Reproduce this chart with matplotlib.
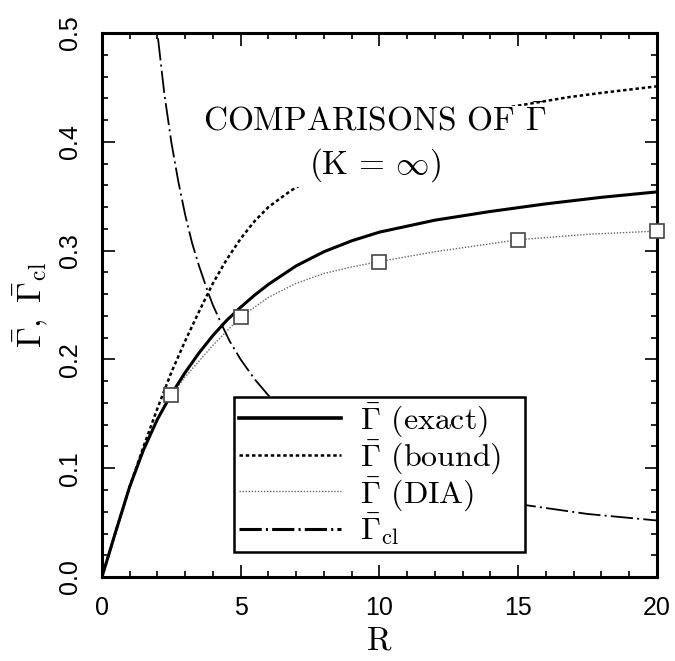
import numpy as np
import matplotlib
matplotlib.use("Agg")
import matplotlib.pyplot as plt

plt.rcParams["mathtext.fontset"] = "cm"
plt.rcParams["lines.scale_dashes"] = False

# curves
r_exact = [0, 0.5, 1, 1.5, 2, 2.5, 3, 3.5, 4, 4.5, 5, 5.5, 6, 7, 8, 9, 10, 12, 14, 16, 18, 20]
g_exact = [0, 0.042, 0.083, 0.117, 0.145, 0.168, 0.188, 0.206, 0.222, 0.236, 0.248, 0.259, 0.269,
           0.286, 0.299, 0.309, 0.317, 0.328, 0.336, 0.343, 0.349, 0.354]

r_bound = [0, 0.5, 1, 1.5, 2, 2.5, 3, 3.5, 4, 4.5, 5, 5.5, 6, 6.8, 8, 10, 12, 14, 16.8, 18, 20]
g_bound = [0, 0.042, 0.083, 0.12, 0.155, 0.188, 0.217, 0.244, 0.27, 0.292, 0.311, 0.327, 0.34,
           0.355, 0.373, 0.398, 0.416, 0.429, 0.441, 0.445, 0.451]

r_dia = [0, 0.5, 1, 1.5, 2, 2.5, 3, 4, 5, 6, 7, 8, 9, 10, 12, 15, 17.5, 20]
g_dia = [0, 0.042, 0.083, 0.117, 0.145, 0.167, 0.184, 0.213, 0.239, 0.257, 0.270, 0.279, 0.285,
         0.290, 0.299, 0.310, 0.315, 0.318]
r_dia_pts = [2.5, 5, 10, 15, 20]
g_dia_pts = [0.167, 0.239, 0.290, 0.310, 0.318]

r_cl = [1.9, 2, 2.25, 2.5, 2.75, 3, 3.25, 3.5, 3.82, 4, 4.3, 4.6, 5, 5.5, 6, 7, 8, 9, 10, 12, 14,
        15.3, 17.5, 20]
g_cl = [0.525, 0.5, 0.444, 0.4, 0.364, 0.333, 0.307, 0.286, 0.262, 0.25, 0.233, 0.217, 0.2, 0.182,
        0.167, 0.143, 0.125, 0.111, 0.1, 0.083, 0.072, 0.066, 0.058, 0.052]

labels = [r"$\bar{\Gamma}$ (exact)", r"$\bar{\Gamma}$ (bound)", r"$\bar{\Gamma}$ (DIA)",
          r"$\bar{\Gamma}_{\rm cl}$"]

fig = plt.figure(figsize=(6.75, 6.61), dpi=100)
ax = fig.add_axes([0.151, 0.127, 0.822, 0.823])

l1, = ax.plot(r_exact, g_exact, color="black", lw=2.2, zorder=3)
l2, = ax.plot(r_bound, g_bound, color="black", lw=1.8, zorder=2)
l2.set_dashes((2.5, 2.0))
l3, = ax.plot(r_dia, g_dia, color="#666666", lw=1.0, linestyle=(0, (1, 1.2)), zorder=2)
ax.plot(r_dia_pts, g_dia_pts, linestyle="None", marker="s", markersize=9.5, mfc="white",
        mec="#444444", mew=1.2, zorder=4, clip_on=False)
l4, = ax.plot(r_cl, g_cl, color="black", lw=1.3, zorder=2)
l4.set_dashes((16, 3, 1.5, 3))

ax.text(9.85, 0.398, "COMPARISONS OF $\\bar{\\Gamma}$\n($\\mathrm{K}$ = $\\infty$)",
        ha="center", va="center", multialignment="center", fontsize=24, family="cmr10",
        linespacing=1.35, zorder=5,
        bbox=dict(facecolor="white", edgecolor="none", pad=2))

leg = ax.legend([l1, l2, l3, l4], labels, loc="lower left", bbox_to_anchor=(0.238, 0.046, 0.524, 0.3),
                mode="expand", prop={"family": "cmr10", "size": 23}, frameon=True, fancybox=False,
                edgecolor="black", framealpha=1, handlelength=3.2, handletextpad=0.6,
                labelspacing=-0.03, borderpad=0.15, borderaxespad=0)
leg.get_frame().set_linewidth(1.8)
leg.set_zorder(6)
# thicker handles in legend like the original
leg.get_lines()[0].set_linewidth(2.6)
leg.get_lines()[3].set_linewidth(2.2)

ax.set_xlim(0, 20)
ax.set_ylim(0, 0.5)
ax.set_xticks([0, 5, 10, 15, 20])
ax.set_xticks(np.arange(0, 21, 1), minor=True)
ax.set_yticks([0.0, 0.1, 0.2, 0.3, 0.4, 0.5])
ax.set_yticks(np.arange(0, 0.501, 0.02), minor=True)
ax.set_yticklabels(["0.0", "0.1", "0.2", "0.3", "0.4", "0.5"], rotation=90, va="center")
ax.tick_params(which="both", direction="in", top=True, right=True, width=1.2)
ax.tick_params(which="major", length=9, labelsize=18, pad=14)
ax.tick_params(which="minor", length=4.5)
for lab in ax.get_xticklabels() + ax.get_yticklabels():
    lab.set_family("Liberation Sans")
for s in ax.spines.values():
    s.set_linewidth(2.2)

ax.set_xlabel("R", family="cmr10", fontsize=24, labelpad=4)
ax.set_ylabel(r"$\bar{\Gamma},\ \bar{\Gamma}_{\rm cl}$", fontsize=24, labelpad=6)

fig.savefig("out.png", dpi=100)
